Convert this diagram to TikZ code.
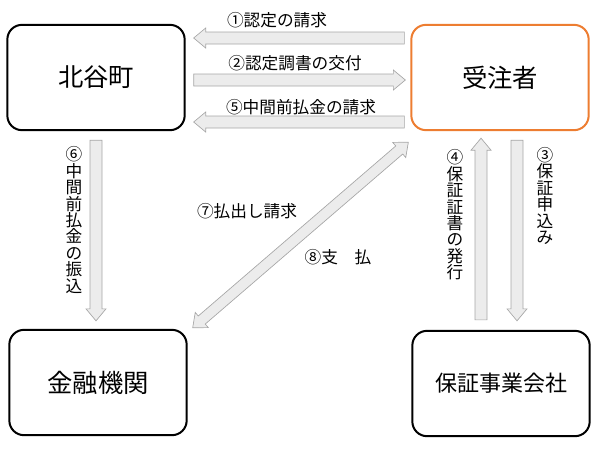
\documentclass[tikz,border=0pt]{standalone}
\usepackage{fontspec}
\setmainfont{Noto Sans CJK JP}
\usetikzlibrary{calc}
\usetikzlibrary{positioning}
\definecolor{jorange}{RGB}{237,125,49}

\newcommand\fatarrow[2]{%
  \coordinate (fa-h) at ($(#2)!9pt!(#1)$);
  \draw[fat] ($(#1)!4.5pt!90:(#2)$) -- ($(fa-h)!4.5pt!90:(#2)$)
    -- ($(fa-h)!7.5pt!90:(#2)$) -- (#2) -- ($(fa-h)!7.5pt!-90:(#2)$)
    -- ($(fa-h)!4.5pt!-90:(#2)$) -- ($(#1)!4.5pt!-90:(#2)$) -- cycle;
}
\newcommand\dblarrow[2]{%
  \coordinate (da-a) at ($(#1)!9pt!(#2)$);
  \coordinate (da-b) at ($(#2)!9pt!(#1)$);
  \draw[fat] (#1) -- ($(da-a)!7.5pt!-90:(#2)$) -- ($(da-a)!4pt!-90:(#2)$)
    -- ($(da-b)!4pt!90:(#1)$) -- ($(da-b)!7.5pt!90:(#1)$) -- (#2)
    -- ($(da-b)!7.5pt!-90:(#1)$) -- ($(da-b)!4pt!-90:(#1)$)
    -- ($(da-a)!4pt!90:(#2)$) -- ($(da-a)!7.5pt!90:(#2)$) -- cycle;
}

\begin{document}
\begin{tikzpicture}[x=0.75pt, y=-0.75pt,
  box/.style={draw, line width=1.5pt, rounded corners=11pt,
    minimum width=133pt, minimum height=79pt,
    font=\fontsize{19}{19}\selectfont},
  fat/.style={draw=gray!70, fill=gray!15, line width=0.5pt},
  lbl/.style={inner sep=0pt, font=\fontsize{12.5}{12.5}\selectfont},
  vlbl/.style={lbl, align=center, font=\fontsize{12.5}{12.3}\selectfont}]

\useasboundingbox (0,0) rectangle (605,450);

%---------------------------------------
% Boxes
%---------------------------------------
\node[box] (hokutan) at (96,77.5) {北谷町};
\node[box, draw=jorange] (jutyu) at (500,77.5) {受注者};
\node[box] (kinyu) at (98,382.5) {金融機関};
\node[box, font=\fontsize{16.5}{16.5}\selectfont] (hosyo) at (501,383.5) {保証事業会社};

%---------------------------------------
% Arrow ends
%---------------------------------------
\coordinate (a1s) at ($(jutyu.west)+(-6,-39.5)$);
\coordinate (a1e) at ($(hokutan.east)+(8,-39.5)$);
\coordinate (a2s) at ($(hokutan.east)+(8,2.5)$);
\coordinate (a2e) at ($(jutyu.west)+(-5,2.5)$);
\coordinate (a5s) at ($(jutyu.west)+(-6,44.5)$);
\coordinate (a5e) at ($(hokutan.east)+(8,44.5)$);
\coordinate (a6s) at ($(hokutan.south)+(0,9)$);
\coordinate (a6e) at ($(a6s |- kinyu.north)+(0,-8)$);
\coordinate (a4s) at ($(hosyo.north)+(-20,-10)$);
\coordinate (a4e) at ($(a4s |- jutyu.south)+(0,7)$);
\coordinate (a3s) at ($(jutyu.south)+(17,9)$);
\coordinate (a3e) at ($(a3s |- hosyo.north)+(0,-9)$);
\coordinate (d1) at ($(kinyu.north east)+(5,-1)$);
\coordinate (d2) at ($(jutyu.south west)+(-2,11)$);

% Block arrows
\fatarrow{a1s}{a1e}
\fatarrow{a2s}{a2e}
\fatarrow{a5s}{a5e}
\fatarrow{a6s}{a6e}
\fatarrow{a4s}{a4e}
\fatarrow{a3s}{a3e}
\dblarrow{d1}{d2}

%---------------------------------------
% Labels
%---------------------------------------
\node[lbl] (l1) at (277,20) {①認定の請求};
\node[lbl] (l2) at (295,63) {②認定調書の交付};
\node[lbl] (l5) at (301,107) {⑤中間前払金の請求};
\node[vlbl] (l6) at (74,220) {⑥\\中\\間\\前\\払\\金\\の\\振\\込};
\node[vlbl] (l4) at (455,215) {④\\保\\証\\証\\書\\の\\発\\行};
\node[vlbl] (l3) at (545,196) {③\\保\\証\\申\\込\\み};
\node[lbl] (l7) at (247,211) {⑦払出し請求};
\node[lbl] (l8) at (338,257) {⑧支　払};

\end{tikzpicture}
\end{document}
